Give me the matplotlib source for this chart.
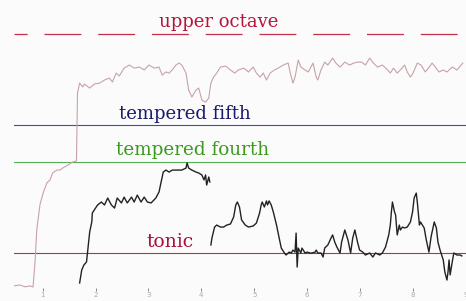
import numpy as np
import matplotlib
matplotlib.use('Agg')
import matplotlib.pyplot as plt

# reference intervals, in cents above the tonic
tonic = 0
fourth = 498
fifth = 702
octave = 1200

# pink (first voice) pitch track: time (s), cents
pink_t = [0.46, 0.57, 0.67, 0.76, 0.82, 0.86, 0.89, 0.95, 1.01, 1.08, 1.14, 1.19, 1.27, 1.33,
          1.38, 1.48, 1.57, 1.64, 1.66, 1.70, 1.76, 1.79, 1.89, 1.98, 2.08, 2.17, 2.26, 2.32,
          2.39, 2.45, 2.54, 2.64, 2.73, 2.83, 2.92, 3.01, 3.11, 3.20, 3.26, 3.33, 3.39, 3.45,
          3.52, 3.58, 3.63, 3.71, 3.76, 3.82, 3.90, 3.95, 4.01, 4.08, 4.14, 4.18, 4.23, 4.29,
          4.36, 4.46, 4.55, 4.63, 4.70, 4.80, 4.89, 4.98, 5.04, 5.11, 5.17, 5.23, 5.30, 5.38,
          5.45, 5.55, 5.64, 5.68, 5.73, 5.77, 5.83, 5.88, 5.96, 6.02, 6.11, 6.17, 6.20, 6.26,
          6.33, 6.39, 6.48, 6.54, 6.62, 6.71, 6.80, 6.88, 6.95, 7.03, 7.10, 7.18, 7.25, 7.33,
          7.42, 7.52, 7.57, 7.63, 7.70, 7.76, 7.84, 7.89, 7.95, 8.00, 8.08, 8.15, 8.23, 8.29,
          8.36, 8.42, 8.49, 8.57, 8.64, 8.74, 8.83, 8.94]
pink_c = [-180, -175, -185, -180, -186, -38, 126, 263, 328, 383, 400, 438, 454, 454,
          465, 482, 498, 504, 876, 930, 909, 925, 903, 925, 930, 947, 958, 936,
          985, 969, 1012, 1029, 1012, 1018, 1002, 1029, 1012, 1018, 974, 991, 985, 1002,
          1029, 1040, 1029, 985, 892, 854, 892, 903, 837, 826, 848, 930, 963, 985,
          1018, 1023, 1002, 985, 1002, 1012, 991, 1018, 985, 963, 985, 947, 985, 1002,
          1012, 1029, 1040, 985, 930, 963, 1056, 1018, 1002, 991, 1040, 963, 947, 1002,
          1045, 1029, 1067, 1040, 1018, 1045, 1029, 1040, 1045, 1045, 1029, 1067, 1040, 1018,
          1029, 1002, 985, 1012, 985, 1002, 1029, 991, 963, 985, 1040, 1029, 991, 1012,
          1040, 1018, 991, 1002, 991, 1018, 1002, 1040]

# black (second voice), first phrase
blk1_t = [1.70, 1.74, 1.78, 1.83, 1.85, 1.89, 1.93, 1.94, 2.00, 2.04, 2.11, 2.17, 2.23, 2.30,
          2.36, 2.41, 2.49, 2.54, 2.60, 2.68, 2.73, 2.79, 2.86, 2.92, 2.98, 3.05, 3.14, 3.20,
          3.24, 3.28, 3.33, 3.39, 3.45, 3.54, 3.63, 3.71, 3.73, 3.76, 3.82, 3.90, 3.95, 4.01,
          4.05, 4.08, 4.10, 4.14, 4.16]
blk1_c = [-164, -93, -66, -49, 5, 115, 170, 219, 246, 263, 279, 263, 301, 263,
          246, 301, 274, 306, 274, 306, 279, 317, 279, 306, 279, 274, 301, 334,
          389, 443, 454, 443, 454, 454, 454, 465, 493, 465, 454, 443, 438, 427,
          400, 427, 372, 416, 389]

# black, second phrase
blk2_t = [4.18, 4.20, 4.25, 4.29, 4.36, 4.42, 4.48, 4.55, 4.61, 4.65, 4.68, 4.72, 4.76, 4.83,
          4.89, 4.98, 5.04, 5.10, 5.13, 5.15, 5.19, 5.23, 5.25, 5.28, 5.32, 5.36, 5.42, 5.47,
          5.51, 5.57, 5.60, 5.66, 5.70, 5.73, 5.77, 5.79, 5.81, 5.83, 5.88, 5.90, 5.96, 6.00,
          6.05, 6.09, 6.15, 6.17, 6.20, 6.26, 6.30, 6.33, 6.39, 6.45, 6.48, 6.52, 6.56, 6.62,
          6.65, 6.71, 6.77, 6.82, 6.86, 6.90, 6.95, 6.99, 7.05, 7.10, 7.18, 7.24, 7.29, 7.37,
          7.42, 7.48, 7.54, 7.57, 7.59, 7.61, 7.65, 7.67, 7.70, 7.74, 7.76, 7.80, 7.84, 7.89,
          7.95, 7.99, 8.02, 8.06, 8.08, 8.12, 8.14, 8.21, 8.25, 8.30, 8.34, 8.40, 8.44, 8.47,
          8.51, 8.57, 8.60, 8.64, 8.66, 8.68, 8.70, 8.74, 8.77, 8.83, 8.89, 8.92]
blk2_c = [44, 82, 142, 153, 142, 142, 153, 159, 197, 263, 279, 252, 181, 153,
          142, 148, 164, 219, 263, 279, 252, 285, 263, 285, 263, 224, 153, 82,
          27, 0, -11, 5, 0, 16, 5, 109, -77, 27, 0, 27, 0, 5,
          0, 0, 5, 16, 0, 0, -22, 27, 44, 82, 99, 60, 33, 0,
          60, 126, 71, 0, 82, 126, 60, 16, 5, -11, 0, -22, 0, -11,
          0, 33, 99, 153, 224, 279, 224, 208, 99, 153, 126, 142, 137, 142,
          170, 224, 301, 328, 279, 153, 170, 137, 71, 5, 88, 170, 137, 60,
          16, -38, -104, -148, -104, -38, -120, -49, 0, -11, -11, -16]

ticks = [1, 2, 3, 4, 5, 6, 7, 8, 9]

fig = plt.figure(figsize=(4.66, 3.01), dpi=100, facecolor='#fafbfa')
ax1 = fig.add_axes([14/466, 10/301, 452/466, 291/301])
ax1.set_facecolor('#fafbfa')

ax1.axhline(octave, c='#c0304a', lw=0.9, ls=(19, (29.5, 13.5)), dash_capstyle='butt')
ax1.axhline(fifth, c='#4a4aa0', lw=0.8)
ax1.axhline(fourth, c='#55b055', lw=0.8)
ax1.axhline(tonic, c='#b83050', lw=0.8)

ax1.plot(pink_t, pink_c, c='#c9a2a8', lw=0.8)
ax1.plot(blk1_t, blk1_c, c='#222222', lw=1.0)
ax1.plot(blk2_t, blk2_c, c='#222222', lw=1.0)

ax1.text(4.32, octave + 18, 'upper octave', color='#b5143c', family='DejaVu Serif',
         fontsize=13, ha='center', va='bottom')
ax1.text(3.69, fifth + 8, 'tempered fifth', color='#1a1a6a', family='DejaVu Serif',
         fontsize=13, ha='center', va='bottom')
ax1.text(3.84, fourth + 14, 'tempered fourth', color='#3a9a1c', family='DejaVu Serif',
         fontsize=13.2, ha='center', va='bottom')
ax1.text(3.40, tonic + 10, 'tonic', color='#a8103a', family='DejaVu Serif',
         fontsize=13.5, ha='center', va='bottom')

ax1.set_xlim(0.46, 9.0)
ax1.set_ylim(-208, 1385)
ax1.set_xticks(ticks)
ax1.set_yticks([])
for s in ax1.spines.values():
    s.set_visible(False)
ax1.tick_params(axis='x', direction='in', length=2.5, width=0.7, color='#888888',
                labelsize=5, labelcolor='#aaaaaa', pad=1)

fig.savefig('out.png', dpi=100, facecolor=fig.get_facecolor())
